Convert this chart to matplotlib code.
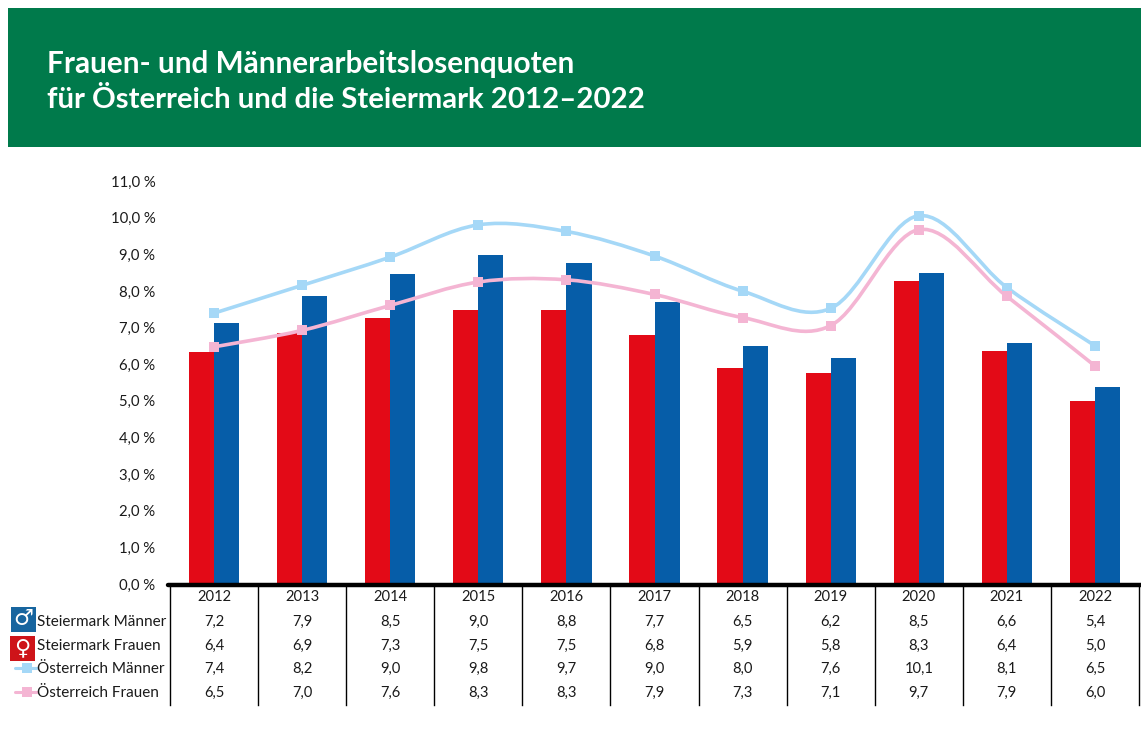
import matplotlib
matplotlib.use("Agg")
import matplotlib.pyplot as plt
import matplotlib.patches as mpatches
from matplotlib.path import Path
from matplotlib.transforms import blended_transform_factory, ScaledTranslation
import numpy as np

W, H = 1141, 731

years = ["2012", "2013", "2014", "2015", "2016", "2017", "2018", "2019", "2020", "2021", "2022"]
y_ticks = [0, 1, 2, 3, 4, 5, 6, 7, 8, 9, 10, 11]
y_labels = ["0,0 %", "1,0 %", "2,0 %", "3,0 %", "4,0 %", "5,0 %", "6,0 %", "7,0 %", "8,0 %", "9,0 %", "10,0 %", "11,0 %"]

# heights
stmk_m = [7.15, 7.90, 8.50, 9.00, 8.78, 7.72, 6.53, 6.20, 8.52, 6.60, 5.40]
stmk_f = [6.37, 6.87, 7.28, 7.50, 7.50, 6.83, 5.93, 5.78, 8.30, 6.38, 5.02]
oe_m = [7.42, 8.18, 8.95, 9.83, 9.65, 8.98, 8.02, 7.55, 10.08, 8.12, 6.53]
oe_f = [6.50, 6.95, 7.63, 8.27, 8.33, 7.93, 7.30, 7.08, 9.70, 7.88, 5.98]

# values printed in the table
row_names = ["Steiermark Männer", "Steiermark Frauen", "Österreich Männer", "Österreich Frauen"]
row_stmk_m = ["7,2", "7,9", "8,5", "9,0", "8,8", "7,7", "6,5", "6,2", "8,5", "6,6", "5,4"]
row_stmk_f = ["6,4", "6,9", "7,3", "7,5", "7,5", "6,8", "5,9", "5,8", "8,3", "6,4", "5,0"]
row_oe_m = ["7,4", "8,2", "9,0", "9,8", "9,7", "9,0", "8,0", "7,6", "10,1", "8,1", "6,5"]
row_oe_f = ["6,5", "7,0", "7,6", "8,3", "8,3", "7,9", "7,3", "7,1", "9,7", "7,9", "6,0"]

GREEN = "#007A4B"
RED = "#E30A17"
BLUE = "#065DA8"
LBLUE = "#A5D8F7"
PINK = "#F4B5D3"
TEXT = "#1a1a1a"

plt.rcParams['font.family'] = ['Lato', 'DejaVu Sans']

AX_L, AX_R, AX_T, AX_B = 170, 1139, 182, 585


def fx(px):
    return px / W


def fy(py):
    return 1 - py / H


def smooth_path(xs, ys):
    # same kind of spline office charts use for "smoothed" lines
    pts = np.column_stack([xs, ys])
    verts = [pts[0]]
    codes = [Path.MOVETO]
    for i in range(len(pts) - 1):
        p0 = pts[max(i - 1, 0)]
        p1 = pts[i]
        p2 = pts[i + 1]
        p3 = pts[min(i + 2, len(pts) - 1)]
        verts += [p1 + (p2 - p0) / 6, p2 - (p3 - p1) / 6, p2]
        codes += [Path.CURVE4] * 3
    return Path(verts, codes)


fig = plt.figure(figsize=(W / 100, H / 100), dpi=100, facecolor="white")

# banner
fig.patches.append(mpatches.Rectangle((fx(8), fy(147)), fx(W - 8), (147 - 8) / H,
                                      transform=fig.transFigure, color=GREEN, lw=0))
fig.text(fx(47), fy(63.5), "Frauen- und Männerarbeitslosenquoten", color="white",
         fontsize=21.4, fontweight="bold", va="center", ha="left")
fig.text(fx(47), fy(100.5), "für Österreich und die Steiermark 2012–2022", color="white",
         fontsize=21.2, fontweight="bold", va="center", ha="left")

ax = fig.add_axes([fx(AX_L), fy(AX_B), (AX_R - AX_L) / W, (AX_B - AX_T) / H])
x = np.arange(len(years))
bar_w = 0.285
ax.bar(x - bar_w / 2, stmk_f, bar_w, color=RED, zorder=2)
ax.bar(x + bar_w / 2, stmk_m, bar_w, color=BLUE, zorder=2)

for vals, col in [(oe_m, LBLUE), (oe_f, PINK)]:
    ax.add_patch(mpatches.PathPatch(smooth_path(x, vals), fill=False, edgecolor=col, lw=2.6, zorder=3))
    ax.plot(x, vals, ls="none", marker="s", ms=7.2, color=col, mew=0, zorder=4)

ax.set_xlim(-0.5, 10.5)
ax.set_ylim(0, 11)
ax.set_yticks(y_ticks)
ax.set_yticklabels(y_labels, fontsize=10.7, color=TEXT)
ax.tick_params(axis="y", length=0, pad=10.5)
ax.set_xticks([])
for lab in ax.get_yticklabels():
    lab.set_transform(lab.get_transform() + ScaledTranslation(0, 1 / 100, fig.dpi_scale_trans))
for s in ax.spines.values():
    s.set_visible(False)

# thick baseline
base = blended_transform_factory(fig.transFigure, ax.transData)
ax.plot([fx(168), fx(1141)], [0, 0], color="black", lw=3.2, transform=base,
        clip_on=False, solid_capstyle="round", zorder=5)

# table under the plot
col_edges = np.arange(len(years) + 1) - 0.5
grid = blended_transform_factory(ax.transData, fig.transFigure)
for e in col_edges:
    ax.plot([e, e], [fy(AX_B), fy(705)], color="black", lw=1.0, transform=grid, clip_on=False)

rows = [years, row_stmk_m, row_stmk_f, row_oe_m, row_oe_f]
row_y = [597, 622, 646, 669, 693]
for cells, py in zip(rows, row_y):
    for i, s in enumerate(cells):
        ax.text(i, fy(py), s, transform=grid, ha="center", va="center",
                fontsize=10.6, color=TEXT, clip_on=False)

for name, py in zip(row_names, row_y[1:]):
    fig.text(fx(37), fy(py), name, fontsize=11, color=TEXT, ha="left", va="center")

# legend keys
fig.patches.append(mpatches.Rectangle((fx(11), fy(632)), 25 / W, 25 / H, transform=fig.transFigure,
                                      color="#17659F", lw=0))
fig.patches.append(mpatches.Rectangle((fx(10), fy(661)), 25 / W, 25 / H, transform=fig.transFigure,
                                      color="#CE1419", lw=0))
fig.text(fx(23.5), fy(619), "♂", color="white", fontsize=16, ha="center", va="center", family="DejaVu Sans")
fig.text(fx(22.5), fy(648), "♀", color="white", fontsize=16, ha="center", va="center", family="DejaVu Sans")
for col, py in [(LBLUE, 668), (PINK, 692)]:
    fig.add_artist(plt.Line2D([fx(15), fx(37)], [fy(py), fy(py)], color=col, lw=2.2,
                              solid_capstyle="round"))
    fig.add_artist(plt.Line2D([fx(27)], [fy(py)], color=col, marker="s", ms=7.5, mew=0, ls="none"))

fig.savefig("out.png", dpi=100)
